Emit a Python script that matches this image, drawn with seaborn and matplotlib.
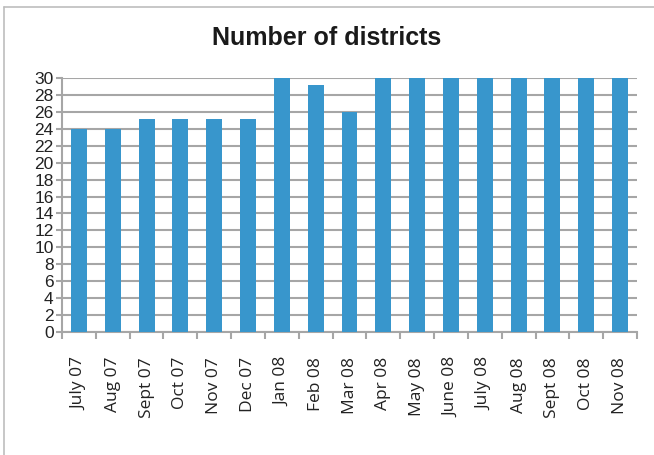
import matplotlib.pyplot as plt
import pandas as pd
import seaborn as sns
from matplotlib.lines import Line2D

months = ["July 07", "Aug 07", "Sept 07", "Oct 07", "Nov 07", "Dec 07",
          "Jan 08", "Feb 08", "Mar 08", "Apr 08", "May 08", "June 08",
          "July 08", "Aug 08", "Sept 08", "Oct 08", "Nov 08"]
districts = [24, 24, 25.2, 25.2, 25.2, 25.2,
             30, 29.2, 26, 30, 30, 30,
             30, 30, 30, 30, 30]

df = pd.DataFrame({"month": months, "districts": districts})

sns.set_theme(style="white")
plt.rcParams["font.family"] = ["Liberation Sans", "DejaVu Sans"]

fig = plt.figure(figsize=(6.54, 4.55), dpi=100)
ax = fig.add_axes([62 / 654, 1 - 332 / 455, (637 - 62) / 654, (332 - 78) / 455])

sns.barplot(data=df, x="month", y="districts", color="#3896cc", width=0.47,
            saturation=1, linewidth=0, edgecolor="none", ax=ax, zorder=3)

ax.set_ylim(0, 30)
ax.set_xlim(-0.5, len(months) - 0.5)
ax.set_yticks(range(0, 31, 2))
ax.yaxis.grid(True, color="#a6a6a6", linewidth=1.5)
ax.set_axisbelow(True)
ax.set_xlabel("")
ax.set_ylabel("")

for side in ["top", "right"]:
    ax.spines[side].set_visible(False)
for side in ["left", "bottom"]:
    ax.spines[side].set_color("#a6a6a6")
    ax.spines[side].set_linewidth(1.5)

ax.tick_params(axis="y", left=True, length=4, width=1.5, color="#a6a6a6",
               labelsize=12.5, pad=2, labelcolor="#222222")
ax.set_yticklabels([str(v) for v in range(0, 31, 2)])

# category-boundary ticks on x axis
ax.set_xticks([i - 0.5 for i in range(len(months) + 1)], minor=True)
ax.tick_params(axis="x", which="minor", bottom=True, length=5, width=1.5,
               color="#a6a6a6")
ax.tick_params(axis="x", which="major", bottom=False, pad=12)
ax.set_xticks(range(len(months)))
ax.set_xticklabels(months, rotation=90, fontsize=12.5, family=["Open Sans", "DejaVu Sans"],
                   color="#222222")

fig.text(0.5, 1 - 38 / 455, "Number of districts", ha="center", va="center",
         fontsize=18, fontweight="bold", color="#1a1a1a")

# frame lines along top and left of the figure
fig.add_artist(Line2D([3.5 / 654, 1], [1 - 7 / 455, 1 - 7 / 455], transform=fig.transFigure,
                      color="#bdbdbd", linewidth=1.2))
fig.add_artist(Line2D([3.5 / 654, 3.5 / 654], [0, 1 - 7 / 455], transform=fig.transFigure,
                      color="#bdbdbd", linewidth=1.2))

fig.savefig("out.png", dpi=100)
